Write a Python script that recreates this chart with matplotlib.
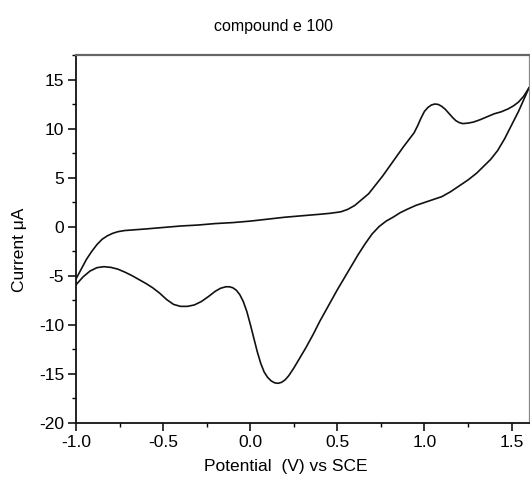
import numpy as np
import matplotlib
matplotlib.use('Agg')
import matplotlib.pyplot as plt
from matplotlib.ticker import MultipleLocator

# forward sweep (upper branch), -1.0 -> 1.6 V
fwd_v = [-1.00, -0.97, -0.94, -0.91, -0.88, -0.85, -0.82, -0.79, -0.76, -0.72,
         -0.66, -0.60, -0.50, -0.40, -0.30, -0.20, -0.10, 0.00, 0.10, 0.20,
         0.30, 0.40, 0.46, 0.52, 0.56, 0.60, 0.64, 0.68, 0.72, 0.76,
         0.80, 0.84, 0.88, 0.91, 0.94, 0.96, 0.98, 1.00, 1.02, 1.04,
         1.06, 1.08, 1.10, 1.12, 1.14, 1.16, 1.18, 1.20, 1.22, 1.25,
         1.28, 1.32, 1.36, 1.40, 1.44, 1.48, 1.51, 1.54, 1.57, 1.60]
fwd_i = [-5.3, -4.3, -3.3, -2.5, -1.8, -1.25, -0.9, -0.65, -0.48, -0.36,
         -0.28, -0.2, -0.05, 0.1, 0.2, 0.35, 0.45, 0.6, 0.8, 1.0,
         1.15, 1.3, 1.4, 1.55, 1.8, 2.2, 2.8, 3.4, 4.3, 5.2,
         6.2, 7.2, 8.2, 8.9, 9.6, 10.3, 11.1, 11.8, 12.2, 12.45,
         12.55, 12.5, 12.3, 12.0, 11.6, 11.2, 10.85, 10.65, 10.55, 10.6,
         10.7, 10.95, 11.25, 11.55, 11.75, 12.05, 12.35, 12.75, 13.35, 14.2]

# reverse sweep (lower branch), 1.6 -> -1.0 V
rev_v = [1.60, 1.57, 1.54, 1.50, 1.46, 1.42, 1.38, 1.34, 1.30, 1.25,
         1.20, 1.15, 1.10, 1.05, 1.00, 0.95, 0.90, 0.86, 0.82, 0.78,
         0.74, 0.70, 0.66, 0.62, 0.58, 0.54, 0.50, 0.45, 0.40, 0.36,
         0.32, 0.28, 0.25, 0.22, 0.20, 0.18, 0.16, 0.14, 0.12, 0.10,
         0.08, 0.06, 0.04, 0.02, 0.00, -0.02, -0.04, -0.06, -0.08, -0.10,
         -0.12, -0.14, -0.17, -0.20, -0.24, -0.28, -0.32, -0.36, -0.40, -0.44,
         -0.48, -0.52, -0.56, -0.60, -0.64, -0.68, -0.72, -0.76, -0.80, -0.84,
         -0.88, -0.92, -0.96, -1.00]
rev_i = [14.2, 13.0, 11.8, 10.4, 9.0, 7.8, 6.9, 6.2, 5.5, 4.8,
         4.2, 3.6, 3.1, 2.8, 2.5, 2.2, 1.8, 1.45, 1.0, 0.6,
         0.05, -0.7, -1.7, -2.8, -4.0, -5.2, -6.4, -8.0, -9.6, -11.0,
         -12.3, -13.5, -14.4, -15.2, -15.6, -15.85, -15.95, -15.9, -15.7, -15.35,
         -14.8, -13.9, -12.7, -11.3, -9.9, -8.6, -7.6, -6.9, -6.45, -6.2,
         -6.1, -6.1, -6.25, -6.55, -7.1, -7.6, -7.95, -8.1, -8.1, -7.9,
         -7.4, -6.75, -6.2, -5.75, -5.35, -4.95, -4.6, -4.3, -4.12, -4.05,
         -4.15, -4.5, -5.1, -5.9]

plt.rcParams['font.family'] = ['Liberation Sans', 'DejaVu Sans']
plt.rcParams['axes.unicode_minus'] = False

fig = plt.figure(figsize=(5.30, 4.86), dpi=100)
ax = fig.add_axes([76 / 530, 63 / 486, 453 / 530, 368 / 486])

ax.plot(fwd_v, fwd_i, color='#111111', lw=1.2)
ax.plot(rev_v, rev_i, color='#111111', lw=1.2)

ax.set_xlim(-1.0, 1.6)
ax.set_ylim(-20, 17.55)
ax.xaxis.set_major_locator(MultipleLocator(0.5))
ax.xaxis.set_minor_locator(MultipleLocator(0.25))
ax.yaxis.set_major_locator(MultipleLocator(5))
ax.yaxis.set_minor_locator(MultipleLocator(2.5))
ax.xaxis.set_major_formatter(matplotlib.ticker.FormatStrFormatter('%.1f'))

ax.tick_params(which='major', direction='out', length=5.5, width=1.1, labelsize=12.5, pad=3)
ax.tick_params(which='minor', direction='out', length=3, width=1.0)
ax.tick_params(top=False, right=False, which='both')

for s in ['left', 'bottom']:
    ax.spines[s].set_linewidth(1.3)
    ax.spines[s].set_color('#111111')
ax.spines['top'].set_linewidth(1.6)
ax.spines['top'].set_color('#666666')
ax.spines['right'].set_linewidth(0.9)
ax.spines['right'].set_color('#888888')

ax.set_xlabel('Potential  (V) vs SCE', fontsize=12.5, va='center')
ax.set_ylabel('Current μA', fontsize=12.5, va='center')
ax.xaxis.set_label_coords((286 - 76) / 453, -(466 - 423) / 368)
ax.yaxis.set_label_coords(-(76 - 20) / 453, (423 - 250) / 368)

fig.text(273 / 530, 1 - 26 / 486, 'compound e 100', ha='center', va='center', fontsize=11.5)

fig.savefig('out.png', dpi=100)
